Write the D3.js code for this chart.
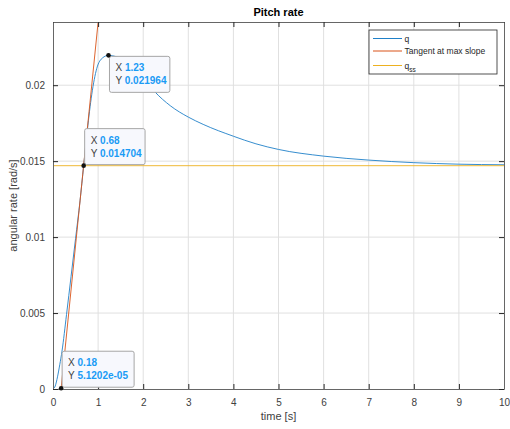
<!DOCTYPE html>
<html>
<head>
  <meta charset="UTF-8">
  <style>
    body { margin: 0; background: #fff; }
    text { font-family: "Liberation Sans", Arial, sans-serif; }
  </style>
</head>
<body>
<svg></svg>
<script src="https://d3js.org/d3.v7.min.js"></script>
<script>

let width = 510, height = 429;

// q response
let qTime = [0, 0.05, 0.1, 0.15, 0.2, 0.3, 0.4, 0.5, 0.6, 0.68, 0.76, 0.86, 0.97, 1.1, 1.23,
             1.4, 1.6, 1.8, 2.0, 2.26, 2.6, 3.0, 3.33, 4.0, 4.5, 5.0, 6.0, 7.0, 8.0, 9.0, 10.0];
let qVal  = [0, 0.0002, 0.0008, 0.0016, 0.0025, 0.0049, 0.0074, 0.0099, 0.0124, 0.014704, 0.0170, 0.0194, 0.0211, 0.0218, 0.021964,
             0.02188, 0.02160, 0.02112, 0.02050, 0.01956, 0.01865, 0.01790, 0.01742, 0.01664, 0.01614, 0.01577, 0.01533, 0.01507, 0.01490, 0.01480, 0.01476];

// tangent at max slope (end points)
let tanTime = [0.18, 1.02];
let tanVal  = [0.0000512, 0.02473];

// steady state
let qss = 0.0147;

// data tips
let tipX = [1.23, 0.68, 0.18];
let tipY = [0.021964, 0.014704, 0.0000512];
let tipXText = ["1.23", "0.68", "0.18"];
let tipYText = ["0.021964", "0.014704", "5.1202e-05"];

let xTicks = [0,1,2,3,4,5,6,7,8,9,10];
let yTicks = [0, 0.005, 0.01, 0.015, 0.02];
let yTickLabels = ["0", "0.005", "0.01", "0.015", "0.02"];

let legendNames = ["q", "Tangent at max slope", "q_ss"];
let colors = ["#1f80c8", "#D95319", "#EDB120"];

let margin = {left: 53, right: 6, top: 22, bottom: 40};

let svg = d3.select("svg")
    .attr("width", width)
    .attr("height", height);

let x = d3.scaleLinear().domain([0, 10]).range([margin.left, width - margin.right]);
let y = d3.scaleLinear().domain([0, 0.02416]).range([height - margin.bottom, margin.top]);

// grid
svg.append("g").selectAll("line")
    .data(xTicks.slice(1, -1))
    .enter().append("line")
    .attr("x1", d => x(d)).attr("x2", d => x(d))
    .attr("y1", y.range()[0]).attr("y2", y.range()[1])
    .attr("stroke", "#e0e0e0").attr("stroke-width", 1);
svg.append("g").selectAll("line")
    .data(yTicks.slice(1))
    .enter().append("line")
    .attr("x1", x.range()[0]).attr("x2", x.range()[1])
    .attr("y1", d => y(d)).attr("y2", d => y(d))
    .attr("stroke", "#e0e0e0").attr("stroke-width", 1);

svg.append("defs").append("clipPath").attr("id", "clip")
  .append("rect")
    .attr("x", x.range()[0]).attr("y", y.range()[1])
    .attr("width", x.range()[1] - x.range()[0])
    .attr("height", y.range()[0] - y.range()[1]);

let plot = svg.append("g").attr("clip-path", "url(#clip)");

let line = d3.line().x(d => x(d[0])).y(d => y(d[1])).curve(d3.curveMonotoneX);

plot.append("path")
    .datum(qTime.map((t, i) => [t, qVal[i]]))
    .attr("d", line)
    .attr("fill", "none").attr("stroke", colors[0]).attr("stroke-width", 0.9);

plot.append("path")
    .datum(tanTime.map((t, i) => [t, tanVal[i]]))
    .attr("d", d3.line().x(d => x(d[0])).y(d => y(d[1])))
    .attr("fill", "none").attr("stroke", colors[1]).attr("stroke-width", 0.9);

plot.append("line")
    .attr("x1", x(0)).attr("x2", x(10))
    .attr("y1", y(qss)).attr("y2", y(qss))
    .attr("stroke", colors[2]).attr("stroke-width", 0.9);

// axes
let axisColor = "#404040";
let xAxis = svg.append("g")
    .attr("transform", "translate(0," + y.range()[0] + ")")
    .call(d3.axisBottom(x).tickValues(xTicks).tickSizeInner(-5).tickSizeOuter(0).tickPadding(10));
let xTop = svg.append("g")
    .attr("transform", "translate(0," + y.range()[1] + ")")
    .call(d3.axisTop(x).tickValues(xTicks).tickSizeInner(-5).tickSizeOuter(0).tickFormat(""));
let yAxis = svg.append("g")
    .attr("transform", "translate(" + x.range()[0] + ",0)")
    .call(d3.axisLeft(y).tickValues(yTicks).tickSizeInner(-5).tickSizeOuter(0).tickPadding(8)
        .tickFormat((d, i) => yTickLabels[i]));
let yRight = svg.append("g")
    .attr("transform", "translate(" + x.range()[1] + ",0)")
    .call(d3.axisRight(y).tickValues(yTicks).tickSizeInner(-5).tickSizeOuter(0).tickFormat(""));

[xAxis, xTop, yAxis, yRight].forEach(a => {
    a.select(".domain").attr("stroke", "#666");
    a.selectAll(".tick line").attr("stroke", "#262626");
    a.selectAll("text").attr("fill", axisColor).style("font-size", "10px");
});

// labels
svg.append("text")
    .attr("x", (x.range()[0] + x.range()[1]) / 2).attr("y", 16)
    .attr("text-anchor", "middle")
    .style("font-size", "11px").style("font-weight", "bold")
    .attr("fill", "#000")
    .text("Pitch rate");
svg.append("text")
    .attr("x", (x.range()[0] + x.range()[1]) / 2).attr("y", 420)
    .attr("text-anchor", "middle")
    .style("font-size", "11px")
    .attr("fill", axisColor)
    .text("time [s]");
svg.append("text")
    .attr("transform", "translate(17," + ((y.range()[0] + y.range()[1]) / 2) + ") rotate(-90)")
    .attr("text-anchor", "middle")
    .style("font-size", "11px")
    .attr("fill", axisColor)
    .text("angular rate [rad/s]");

// legend
let lg = svg.append("g").attr("transform", "translate(369,30)");
lg.append("rect")
    .attr("width", 128).attr("height", 44)
    .attr("fill", "#fff").attr("stroke", "#262626").attr("stroke-width", 0.8);
let lgY = [8.5, 21, 35.5];
legendNames.forEach((name, i) => {
    lg.append("line")
        .attr("x1", 4).attr("x2", 33)
        .attr("y1", lgY[i]).attr("y2", lgY[i])
        .attr("stroke", colors[i]).attr("stroke-width", 1);
    let t = lg.append("text")
        .attr("x", 35.5).attr("y", lgY[i] + 3)
        .style("font-size", "8.5px")
        .attr("fill", "#262626");
    if (name === "q_ss") {
        t.append("tspan").text("q");
        t.append("tspan").attr("dy", 3).style("font-size", "6.5px").text("ss");
    } else {
        t.text(name);
    }
});

// data tips
let tipBelow = [true, false, false];
tipX.forEach((tx, i) => {
    let px = x(tx), py = y(tipY[i]);
    let g = svg.append("g");
    let bw = 14 + tipYText[i].length * 5.8, bh = 36;
    let bx = px + 1;
    let by = tipBelow[i] ? py + 1 : py - bh - 1;
    g.append("rect")
        .attr("x", bx).attr("y", by)
        .attr("width", bw).attr("height", bh)
        .attr("rx", 2)
        .attr("fill", "#f7f8fd").attr("stroke", "#a6a6a6").attr("stroke-width", 1);
    [["X", tipXText[i]], ["Y", tipYText[i]]].forEach((row, j) => {
        let t = g.append("text")
            .attr("x", bx + 6).attr("y", by + 15 + j * 13)
            .style("font-size", "10px");
        t.append("tspan").attr("fill", "#404040").text(row[0] + " ");
        t.append("tspan").attr("fill", "#1a9bf5").style("font-weight", "bold").text(row[1]);
    });
    svg.append("circle")
        .attr("cx", px).attr("cy", py).attr("r", 2.3)
        .attr("fill", "#111");
});

</script>
</body>
</html>
